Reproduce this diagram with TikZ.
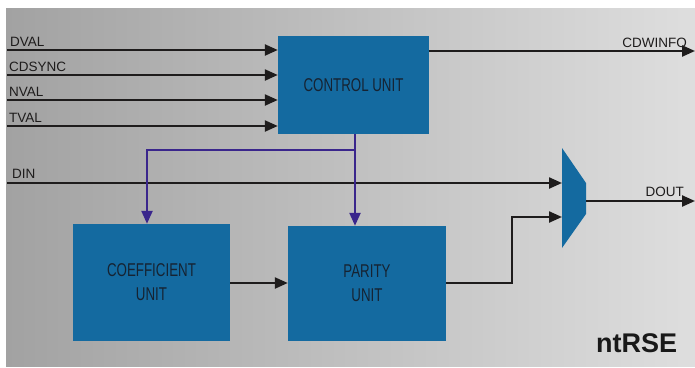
\documentclass[tikz,border=0pt]{standalone}
\usepackage{fontspec}
\setmainfont{Liberation Sans}
\usetikzlibrary{arrows.meta}
\definecolor{boxblue}{RGB}{20,106,160}
\definecolor{boxtext}{RGB}{22,35,50}
\definecolor{wire}{RGB}{30,28,28}
\definecolor{purp}{RGB}{58,38,140}
\definecolor{bgleft}{RGB}{162,162,162}
\definecolor{bgright}{RGB}{222,222,222}
\tikzset{
  blk/.style={fill=boxblue, draw=none, inner sep=0pt, align=center, text=boxtext,
    font=\fontsize{18.5}{24}\selectfont},
  sig/.style={draw=wire, line width=2.3pt, -{Triangle[length=13pt,width=11pt]}},
  ctl/.style={draw=purp, line width=2.3pt, -{Triangle[length=13pt,width=11pt]}},
  lbl/.style={font=\fontsize{13.5}{15}\selectfont, text=wire, inner sep=0pt},
}
\newcommand{\narrow}[1]{\scalebox{0.72}[1]{#1}}
\begin{document}
\begin{tikzpicture}[x=1pt,y=-1pt]
\useasboundingbox (0,0) rectangle (695,367);
\fill[white] (0,0) rectangle (695,367);
\shade[left color=bgleft, right color=bgright] (6,8) rectangle (695,366);

% blocks
\node[blk, minimum width=151pt, minimum height=98pt] (ctrl) at (353.5,85) {\narrow{CONTROL UNIT}};
\node[blk, minimum width=157pt, minimum height=117pt] (coef) at (151.5,282.5) {\narrow{COEFFICIENT}\\\narrow{UNIT}};
\node[blk, minimum width=158pt, minimum height=115pt] (par) at (367,283.5) {\narrow{PARITY}\\\narrow{UNIT}};

% mux
\coordinate (m1) at (562,148);
\coordinate (m2) at (586,183);
\coordinate (m3) at (586,214);
\coordinate (m4) at (562,248);
\fill[boxblue] (m1) -- (m2) -- (m3) -- (m4) -- cycle;
\coordinate (muxA) at (562,183);
\coordinate (muxB) at (562,217);
\coordinate (muxO) at (586,201);

% inputs
\coordinate (iDVAL) at (7,50);
\coordinate (iCDSYNC) at (7,75);
\coordinate (iNVAL) at (7,100);
\coordinate (iTVAL) at (7,126);
\coordinate (iDIN) at (7,183);
\draw[sig] (iDVAL) -- (iDVAL -| ctrl.west);
\draw[sig] (iCDSYNC) -- (iCDSYNC -| ctrl.west);
\draw[sig] (iNVAL) -- (iNVAL -| ctrl.west);
\draw[sig] (iTVAL) -- (iTVAL -| ctrl.west);
\draw[sig] (iDIN) -- (muxA);

\node[lbl, anchor=base west] (tDVAL) at (10,46.5) {DVAL};
\node[lbl, anchor=base west] (tCDSYNC) at (9,71.5) {CDSYNC};
\node[lbl, anchor=base west] (tNVAL) at (9,96.5) {NVAL};
\node[lbl, anchor=base west] (tTVAL) at (9,122.5) {TVAL};
\node[lbl, anchor=base west] (tDIN) at (12,178.5) {DIN};

% outputs
\coordinate (oCDW) at (695,51);
\draw[sig] (ctrl.east |- oCDW) -- (oCDW);
\node[lbl, anchor=base east] (tCDW) at (687,47) {CDWINFO};
\coordinate (oDOUT) at (695,201);
\draw[sig] (muxO) -- (oDOUT);
\node[lbl, anchor=base east] (tDOUT) at (684,196) {DOUT};

% coefficient -> parity
\draw[sig] (coef.east |- 0,283) -- (par.west |- 0,283);
% parity -> mux
\draw[sig] (par.east |- 0,283) -- (512,283) -- (512,217) -- (muxB);

% control lines
\draw[ctl] (ctrl.south -| 355,0) -- (par.north -| 355,0);
\draw[ctl] (355,150) -- (147,150) -- (coef.north -| 147,0);

\node[font=\fontsize{27}{30}\selectfont\bfseries, text=black!90, anchor=base west, inner sep=0pt] (title) at (596,352) {ntRSE};
\end{tikzpicture}
\end{document}
